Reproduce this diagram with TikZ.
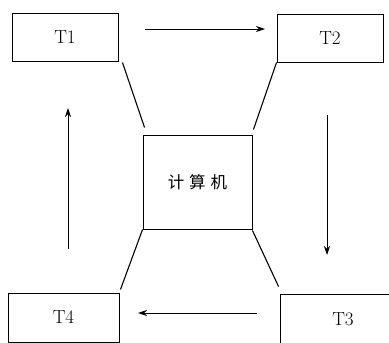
\documentclass[tikz,border=0pt]{standalone}
\usepackage{fontspec}
\newfontfamily\cjk{Noto Sans CJK SC}
\usetikzlibrary{calc,arrows.meta}
\begin{document}
\begin{tikzpicture}[x=1pt,y=-1pt,
  line width=0.9pt,
  termbox/.style={draw, rectangle, inner sep=0pt, font=\fontsize{19}{19}\selectfont},
  link/.style={line width=1.1pt},
  flow/.style={line width=0.8pt, -{Stealth[length=9pt,width=6pt]}}]
\useasboundingbox (0,0) rectangle (389,343);
\node[termbox, minimum width=106pt, minimum height=48pt] (t1) at (65,37) {T1};
\node[termbox, minimum width=106pt, minimum height=48pt] (t2) at (330,38) {T2};
\node[termbox, minimum width=111pt, minimum height=49pt] (t4) at (63.5,317.5) {T4};
\node[rectangle, inner sep=0pt, minimum width=124pt, minimum height=54pt, font=\fontsize{19}{19}\selectfont] (t3) at (343,322) {\raisebox{6pt}{T3}};
\draw (t3.south west) -- (t3.north west) -- (t3.north east);
\node[draw, rectangle, inner sep=0pt, minimum width=109pt, minimum height=94pt, font=\cjk\fontsize{16.5}{16.5}\selectfont] (c) at (197.5,182) {计\hspace{5pt}算\hspace{5pt}机};
% links
\draw[link] ($(t1.south east)+(4,1)$) -- ($(c.north west)+(2,-7)$);
\draw[link] ($(t2.south west)+(0,0)$) -- ($(c.north east)+(1,-5)$);
\draw[link] ($(c.south west)+(0,0)$) -- ($(t4.north east)+(1,-3)$);
\draw[link] ($(c.south east)+(0,1)$) -- ($(t3.north west)+(-2,-8)$);
% flow arrows
\coordinate (a1) at (145,29);
\coordinate (a2) at (265,29);
\draw[flow] (a1) -- (a2);
\coordinate (b1) at (327,115);
\coordinate (b2) at (327,255);
\draw[flow] (b1) -- (b2);
\coordinate (d1) at (257,313);
\coordinate (d2) at (138,313);
\draw[flow] (d1) -- (d2);
\coordinate (e1) at (68,249);
\coordinate (e2) at (68,108);
\draw[flow] (e1) -- (e2);
\end{tikzpicture}
\end{document}
